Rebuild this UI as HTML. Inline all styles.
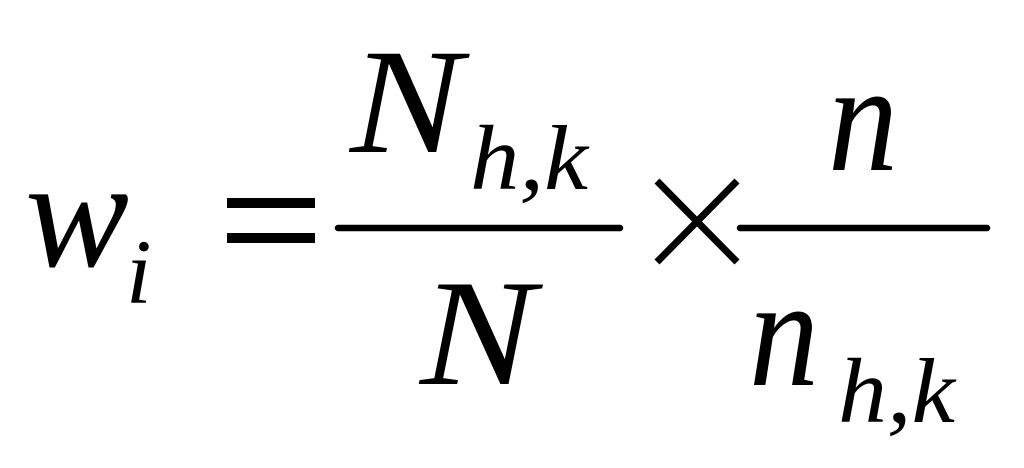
<!DOCTYPE html>
<html><head><meta charset="utf-8"><style>
html,body{margin:0;padding:0;background:#fff;width:1024px;height:468px;overflow:hidden}
svg{display:block}
text{font-family:"Liberation Serif",serif;font-style:italic;fill:#000}
</style></head><body>
<svg width="1024" height="468" viewBox="0 0 1024 468" xmlns="http://www.w3.org/2000/svg">
<text x="25" y="266" font-size="156" textLength="104" lengthAdjust="spacingAndGlyphs">w</text>
<text x="126" y="303" font-size="92">i</text>
<rect x="227" y="198" width="88" height="10"/>
<rect x="227" y="233" width="88" height="10"/>
<text x="350" y="152" font-size="150" textLength="112" lengthAdjust="spacingAndGlyphs">N</text>
<text x="470" y="189" font-size="92" textLength="118" lengthAdjust="spacingAndGlyphs">h,k</text>
<line x1="338" y1="228" x2="620" y2="228" stroke="#000" stroke-width="6.5" stroke-linecap="round"/>
<text x="420" y="384" font-size="152" textLength="115" lengthAdjust="spacingAndGlyphs">N</text>
<line x1="657" y1="181" x2="737" y2="262" stroke="#000" stroke-width="7"/>
<line x1="737" y1="181" x2="657" y2="262" stroke="#000" stroke-width="7"/>
<line x1="740" y1="228" x2="987" y2="228" stroke="#000" stroke-width="6.5" stroke-linecap="round"/>
<text x="828" y="170" font-size="156" textLength="70" lengthAdjust="spacingAndGlyphs">n</text>
<text x="749" y="385" font-size="156" textLength="70" lengthAdjust="spacingAndGlyphs">n</text>
<text x="838" y="422" font-size="92" textLength="117" lengthAdjust="spacingAndGlyphs">h,k</text>
</svg>
</body></html>
